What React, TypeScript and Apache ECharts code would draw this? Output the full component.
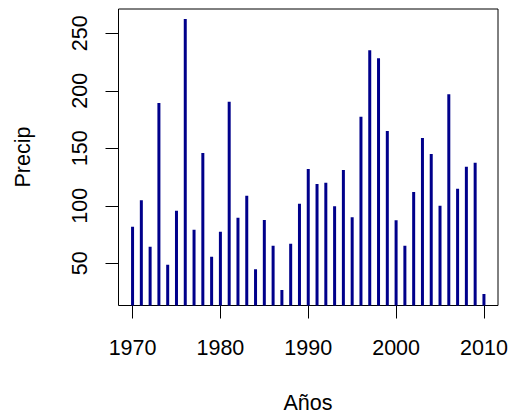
import React, { useEffect, useRef } from "react";
import * as echarts from "echarts";

const years = [
  1970, 1971, 1972, 1973, 1974, 1975, 1976, 1977, 1978, 1979,
  1980, 1981, 1982, 1983, 1984, 1985, 1986, 1987, 1988, 1989,
  1990, 1991, 1992, 1993, 1994, 1995, 1996, 1997, 1998, 1999,
  2000, 2001, 2002, 2003, 2004, 2005, 2006, 2007, 2008, 2009,
  2010,
];
const precip = [
  81.8, 104.8, 64.4, 189.4, 48.8, 95.7, 262.4, 79.2, 145.9, 55.7,
  77.5, 190.5, 89.7, 108.8, 44.8, 87.7, 65.3, 26.8, 67.0, 101.8,
  132.0, 119.0, 120.1, 99.6, 131.1, 90.0, 177.5, 235.2, 228.3, 165.0,
  87.4, 65.3, 112.0, 159.0, 145.0, 100.1, 197.0, 114.9, 134.0, 137.5,
  23.3,
];
const xTicks = [1970, 1980, 1990, 2000, 2010];
const yTicks = [50, 100, 150, 200, 250];

const FONT = "'Liberation Sans', Arial, Helvetica, sans-serif";
const FS = 21.5;

export default function App() {
  const ref = useRef<HTMLDivElement>(null);
  useEffect(() => {
    if (!ref.current) return;
    const chart = echarts.init(ref.current, undefined, { renderer: "svg" });
    const data = years.map((y, i) => [y, precip[i]]);
    chart.setOption({
      animation: false,
      backgroundColor: "#ffffff",
      grid: {
        left: 118.5,
        right: 13,
        top: 9,
        bottom: 109.5,
        show: true,
        borderColor: "#000",
        borderWidth: 1,
        backgroundColor: "transparent",
      },
      xAxis: {
        type: "value",
        min: 1968.4,
        max: 2011.6,
        splitLine: { show: false },
        axisLine: { show: false },
        axisTick: {
          show: true,
          length: 13,
          customValues: xTicks,
          lineStyle: { color: "#000", width: 1 },
        },
        axisLabel: {
          customValues: xTicks,
          margin: 31,
          color: "#000",
          fontSize: FS,
          fontFamily: FONT,
          formatter: (v: number) => String(v),
        },
      },
      yAxis: {
        type: "value",
        min: 13.3,
        max: 271.1,
        splitLine: { show: false },
        axisLine: { show: false },
        axisTick: {
          show: true,
          length: 13,
          customValues: yTicks,
          lineStyle: { color: "#000", width: 1 },
        },
        axisLabel: {
          customValues: yTicks,
          rotate: 90,
          margin: 28,
          color: "#000",
          fontSize: FS,
          fontFamily: FONT,
          formatter: (v: number) => String(v),
        },
      },
      graphic: [
        {
          type: "text",
          x: 308,
          y: 403,
          style: {
            text: "Años",
            fontSize: FS,
            fontFamily: FONT,
            fill: "#000",
            textAlign: "center",
            textVerticalAlign: "middle",
          },
        },
        {
          type: "text",
          x: 23,
          y: 157,
          rotation: Math.PI / 2,
          style: {
            text: "Precip",
            fontSize: FS,
            fontFamily: FONT,
            fill: "#000",
            textAlign: "center",
            textVerticalAlign: "middle",
          },
        },
      ],
      series: [
        {
          type: "custom",
          clip: true,
          data,
          encode: { x: 0, y: 1 },
          renderItem: (params: any, api: any) => {
            const x = api.value(0);
            const v = api.value(1);
            const top = api.coord([x, v]);
            const base = api.coord([x, 0]);
            return {
              type: "line",
              shape: { x1: top[0], y1: base[1], x2: top[0], y2: top[1] },
              style: { stroke: "#00008B", lineWidth: 3, lineCap: "butt" },
            };
          },
        },
      ],
    });
    return () => chart.dispose();
  }, []);
  return (
    <div
      ref={ref}
      style={{ position: "fixed", left: 0, top: 0, width: 511, height: 415, background: "#fff" }}
    />
  );
}
